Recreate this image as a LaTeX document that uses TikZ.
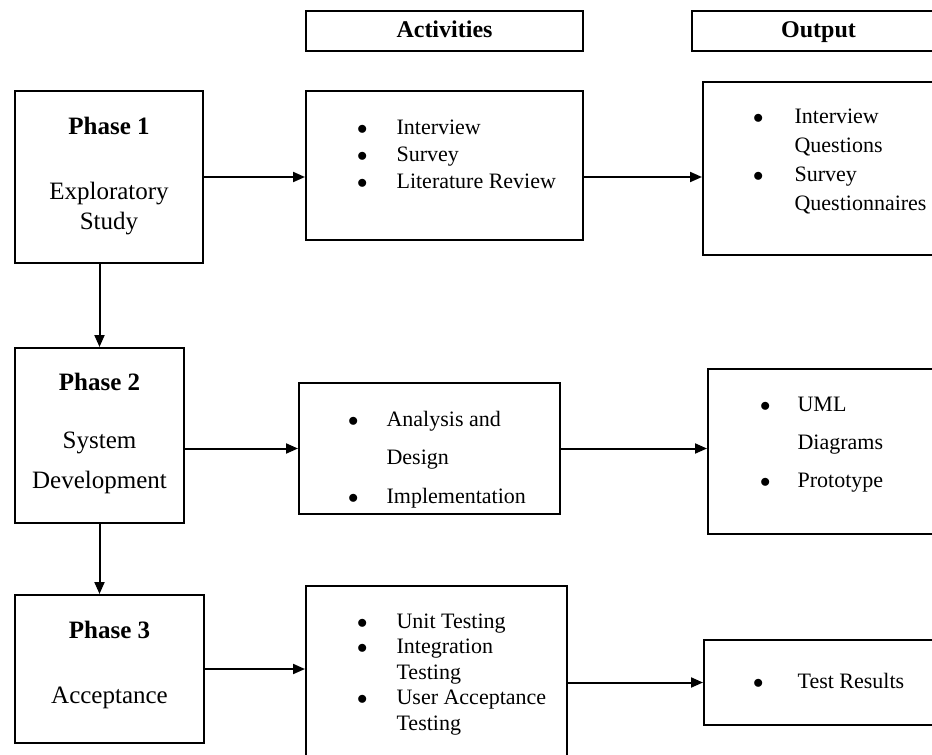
\documentclass[tikz,border=0pt]{standalone}
\usepackage{fontspec}
\setmainfont{Liberation Serif}
\usetikzlibrary{arrows.meta}

\newcommand{\lst}[2]{\begin{tabular}[t]{@{}l@{\hspace{#1}}l@{}}#2\end{tabular}}
\newcommand{\stk}[1]{\begin{tabular}[t]{@{}c@{}}#1\end{tabular}}
\newcommand{\bl}{$\bullet$}

\begin{document}
\begin{tikzpicture}
  [x=1pt,y=-1pt,
   box/.style={draw,line width=2pt,inner sep=0pt},
   hd/.style={box,text height=17pt,text depth=5pt,font=\fontsize{24}{28}\selectfont\bfseries},
   ttl/.style={anchor=base,inner sep=0pt,font=\fontsize{25}{30}\selectfont\bfseries},
   dsc/.style={anchor=base,inner sep=0pt,font=\fontsize{25}{#1}\selectfont},
   txt/.style={anchor=base west,inner sep=0pt,font=\fontsize{22}{#1}\selectfont},
   arr/.style={-{Triangle[length=12pt,width=10pt]},line width=2pt}]
  \useasboundingbox (0,0) rectangle (932,755);
  \clip (0,0) rectangle (932,755);

  % column heads
  \node[hd,minimum width=277pt,minimum height=40pt] (actHead) at (444.5,31) {Activities};
  \node[hd,minimum width=253pt,minimum height=40pt] (outHead) at (818.5,31) {Output};

  % boxes
  \node[box,minimum width=188pt,minimum height=172pt] (ph1)  at (109,177)   {};
  \node[box,minimum width=277pt,minimum height=149pt] (act1) at (444.5,165.5) {};
  \node[box,minimum width=242pt,minimum height=173pt] (out1) at (824,168.5) {};
  \node[box,minimum width=169pt,minimum height=175pt] (ph2)  at (99.5,435.5) {};
  \node[box,minimum width=261pt,minimum height=131pt] (act2) at (429.5,448.5) {};
  \node[box,minimum width=237pt,minimum height=165pt] (out2) at (826.5,451.5) {};
  \node[box,minimum width=189pt,minimum height=148pt] (ph3)  at (109.5,669) {};
  \node[box,minimum width=261pt,minimum height=190pt] (act3) at (436.5,681) {};
  \node[box,minimum width=241pt,minimum height=85pt]  (out3) at (824.5,682.5) {};

  % phases
  \node[ttl] (ph1Ttl) at (109,134) {Phase 1};
  \node[dsc=30] (ph1Dsc) at (109,199) {\stk{Exploratory\\Study}};
  \node[ttl] (ph2Ttl) at (99.5,390) {Phase 2};
  \node[dsc=40] (ph2Dsc) at (99.5,448) {\stk{System\\Development}};
  \node[ttl] (ph3Ttl) at (109.5,638) {Phase 3};
  \node[dsc=30] (ph3Dsc) at (109.5,703) {\stk{Acceptance}};

  % lists
  \node[txt=27] (act1Txt) at (357,134)
    {\lst{29pt}{\bl & Interview\\ \bl & Survey\\ \bl & Literature Review}};
  \node[txt=29] (out1Txt) at (753,123)
    {\lst{31pt}{\bl & Interview\\ & Questions\\ \bl & Survey\\ & Questionnaires}};
  \node[txt=38.5] (act2Txt) at (348,426)
    {\lst{28pt}{\bl & Analysis and\\ & Design\\ \bl & Implementation}};
  \node[txt=38] (out2Txt) at (760,411)
    {\lst{27pt}{\bl & UML\\ & Diagrams\\ \bl & Prototype}};
  \node[txt=25.5] (act3Txt) at (357,628)
    {\lst{29pt}{\bl & Unit Testing\\ \bl & Integration\\ & Testing\\ \bl & User Acceptance\\ & Testing}};
  \node[txt=25.5] (out3Txt) at (753,688)
    {\lst{34pt}{\bl & Test Results}};

  % arrows
  \draw[arr] (ph1.east) -- (ph1.east -| act1.west);
  \draw[arr] (act1.east |- ph1.east) -- (out1.west |- ph1.east);
  \draw[arr] (ph2.east |- act2.west) -- (act2.west);
  \draw[arr] (act2.east) -- (act2.east -| out2.west);
  \draw[arr] (ph3.east) -- (ph3.east -| act3.west);
  \draw[arr] (act3.east |- out3.west) -- (out3.west);
  \draw[arr] (ph1.south -| ph2.south) -- (ph2.north);
  \draw[arr] (ph2.south) -- (ph2.south |- ph3.north);
\end{tikzpicture}
\end{document}
